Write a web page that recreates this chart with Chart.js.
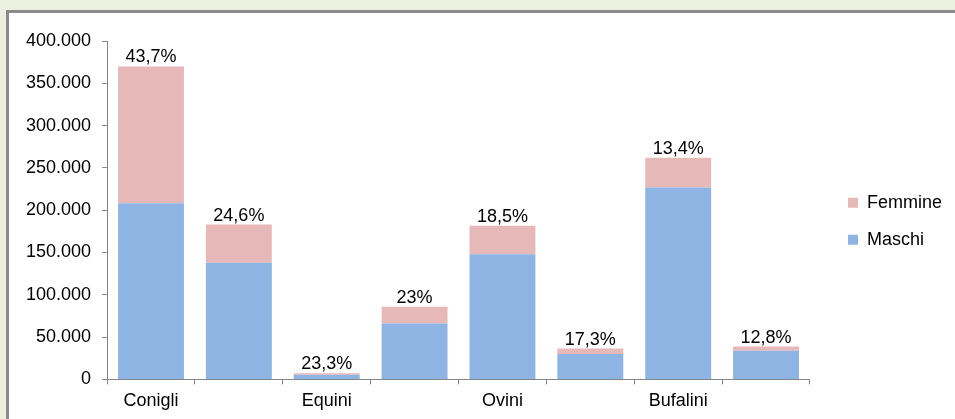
<!DOCTYPE html>
<html>
<head>
<meta charset="utf-8">
<script src="https://cdn.jsdelivr.net/npm/chart.js@4"></script>
<style>
  html, body { margin: 0; padding: 0; }
  body { width: 955px; height: 419px; background: #ebf1de; position: relative; overflow: hidden; }
  #box { position: absolute; left: 6px; top: 10px; width: 1000px; height: 500px; background: #fff;
         border-left: 3px solid #8a8a8a; border-top: 3px solid #8a8a8a; box-sizing: border-box; }
  #wrap { position: absolute; left: 0; top: 0; width: 955px; height: 419px; }
</style>
</head>
<body>
<div id="box"></div>
<div id="wrap"><canvas id="grafico"></canvas></div>
<script>
// categorie (solo quelle pari hanno l'etichetta visibile)
let categorie = ['Conigli', 'Avicoli', 'Equini', 'Caprini', 'Ovini', 'Suini', 'Bufalini', 'Bovini'];
let maschi = [208300, 138000, 5500, 66100, 148000, 30100, 226900, 33800];
let femmine = [161700, 45000, 1700, 19700, 33600, 6300, 35100, 5000];
let quotaFemmine = [43.7, 24.6, 23.3, 23, 18.5, 17.3, 13.4, 12.8];
let tickY = [0, 50000, 100000, 150000, 200000, 250000, 300000, 350000, 400000];

const grigio = '#868686';
const font18 = { family: 'Liberation Sans, Arial, sans-serif', size: 18 };

function formatta(v) {
  return String(v).replace(/\B(?=(\d{3})+(?!\d))/g, '.');
}

// etichette percentuali sopra le colonne
const etichette = {
  id: 'etichette',
  afterDatasetsDraw(chart) {
    const ctx = chart.ctx;
    const meta = chart.getDatasetMeta(chart.data.datasets.length - 1);
    ctx.save();
    ctx.font = '18px ' + font18.family;
    ctx.fillStyle = '#000';
    ctx.textAlign = 'center';
    ctx.textBaseline = 'alphabetic';
    meta.data.forEach((bar, i) => {
      ctx.fillText(String(quotaFemmine[i]).replace('.', ',') + '%', bar.x, bar.y - 4);
    });
    ctx.restore();
  }
};

// spazio vuoto tra grafico e legenda
const spazio = {
  id: 'spazio',
  beforeInit(chart) {
    const box = {
      fullSize: false, position: 'right', weight: 500,
      options: { stackWeight: 1 },
      isHorizontal() { return false; },
      update() { this.width = 19; this.height = 0; },
      getPadding() { return { top: 0, left: 0, right: 0, bottom: 0 }; },
      draw() {}
    };
    Chart.layouts.addBox(chart, box);
  }
};

new Chart(document.getElementById('grafico'), {
  type: 'bar',
  data: {
    labels: categorie,
    datasets: [{
      label: 'Maschi',
      data: maschi,
      backgroundColor: '#8eb4e3',
      barPercentage: 0.75,
      categoryPercentage: 1
    }, {
      label: 'Femmine',
      data: femmine,
      backgroundColor: '#e6b9b8',
      barPercentage: 0.75,
      categoryPercentage: 1
    }]
  },
  options: {
    responsive: true,
    maintainAspectRatio: false,
    animation: false,
    layout: {
      padding: { left: 15, top: 41, right: 3, bottom: 1 }
    },
    plugins: {
      legend: {
        position: 'right',
        fullSize: false,
        reverse: true,
        title: { display: true, text: '', padding: 0, font: { size: 22, lineHeight: 1 } },
        labels: {
          boxWidth: 10,
          boxHeight: 10,
          padding: 19,
          color: '#000',
          font: font18
        }
      },
      tooltip: { enabled: false }
    },
    scales: {
      x: {
        stacked: true,
        grid: { display: true, drawOnChartArea: false, offset: true, tickLength: 5, color: grigio },
        border: { color: grigio },
        ticks: {
          color: '#000',
          font: font18,
          padding: 6,
          autoSkip: false,
          maxRotation: 0,
          callback: function (v, i) { return i % 2 === 0 ? categorie[i] : ''; }
        }
      },
      y: {
        stacked: true,
        min: 0,
        max: 400000,
        afterBuildTicks: (scale) => { scale.ticks = tickY.map(v => ({ value: v })); },
        grid: { display: true, drawOnChartArea: false, tickLength: 5, color: grigio },
        border: { color: grigio },
        ticks: {
          color: '#000',
          font: font18,
          padding: 11,
          callback: (v) => formatta(v)
        }
      }
    }
  },
  plugins: [spazio, etichette]
});
</script>
</body>
</html>
